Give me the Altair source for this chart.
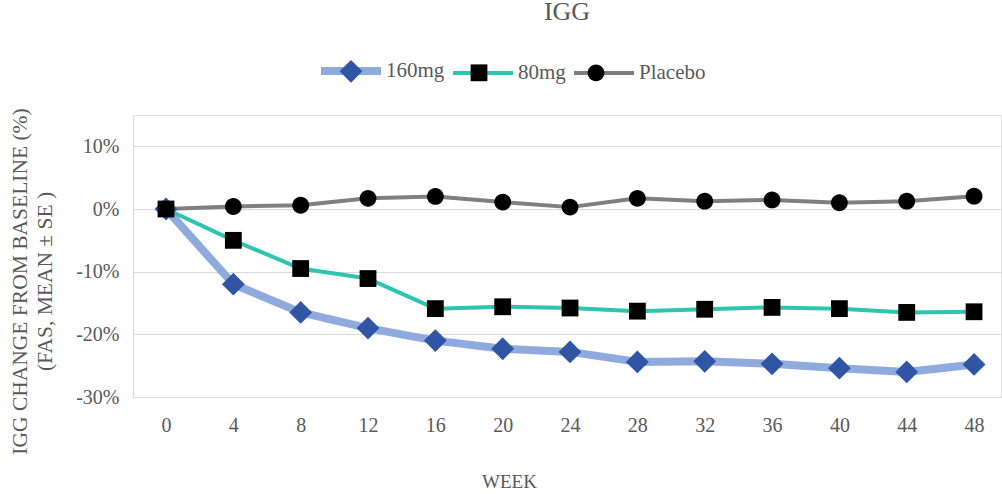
import altair as alt
import pandas as pd

weeks = [0, 4, 8, 12, 16, 20, 24, 28, 32, 36, 40, 44, 48]
pct_160mg = [0, -12.0, -16.5, -19.0, -21.0, -22.3, -22.8, -24.4, -24.3, -24.7, -25.4, -26.0, -24.8]
pct_80mg = [0, -5.0, -9.5, -11.1, -15.9, -15.6, -15.8, -16.3, -16.0, -15.7, -15.9, -16.5, -16.4]
pct_placebo = [0, 0.4, 0.6, 1.7, 2.0, 1.1, 0.3, 1.7, 1.25, 1.45, 1.0, 1.25, 2.05]
series_names = ["160mg", "80mg", "Placebo"]
y_ticks = [-30, -20, -10, 0, 10]

line_colors = ["#8faadc", "#2ec4b0", "#7f7f7f"]
line_widths = [8, 4, 4]
marker_colors = ["#2f55a4", "#000000", "#000000"]
diamond = "M0,-0.38L0.38,0L0,0.38L-0.38,0Z"
square = "M-0.28,-0.28L0.28,-0.28L0.28,0.28L-0.28,0.28Z"
circle = "M0.28,0A0.28,0.28 0 1,1 -0.28,0A0.28,0.28 0 1,1 0.28,0Z"
legend_line = "M-1,0L1,0"

rows = []
for name, vals in [("Placebo", pct_placebo), ("160mg", pct_160mg), ("80mg", pct_80mg)]:
    for w, v in zip(weeks, vals):
        rows.append({"week": w, "pct": v, "series": name, "marker": name})
df = pd.DataFrame(rows)

FONT = "Liberation Serif"
GRAY = "#595959"

x = alt.X(
    "week:Q",
    scale=alt.Scale(domain=[-1.96, 49.6], nice=False, zero=False),
    axis=alt.Axis(
        values=weeks, grid=False, ticks=False, tickSize=0, labelPadding=18,
        labelFont=FONT, labelFontSize=20, labelColor=GRAY,
        domainColor="#d9d9d9", domainWidth=1,
        title="WEEK", titleFont=FONT, titleFontSize=19, titleColor=GRAY,
        titleFontWeight="normal", titleX=376, titleY=90, titleBaseline="alphabetic",
        titleAlign="center",
    ),
)
y = alt.Y(
    "pct:Q",
    scale=alt.Scale(domain=[-30, 15], nice=False, zero=False),
    axis=alt.Axis(
        values=y_ticks, labelExpr="datum.value + '%'", ticks=False, tickSize=0,
        labelPadding=14, labelFont=FONT, labelFontSize=20, labelColor=GRAY,
        gridColor="#d9d9d9", gridWidth=1, domainColor="#d9d9d9", domainWidth=1,
        title=["IGG CHANGE FROM BASELINE (%)", "(FAS, MEAN ± SE )"],
        titleFont=FONT, titleFontSize=21.5, titleColor=GRAY, titleFontWeight="normal",
        titleLineHeight=25, titleX=-102, titleY=166, titleAlign="center",
        titleBaseline="bottom", titleAngle=270,
    ),
)

legend_common = dict(
    orient="none", legendX=184, legendY=-78, direction="horizontal", columns=3,
    symbolSize=3600, labelFont=FONT, labelFontSize=21, labelColor=GRAY,
    labelOffset=1, columnPadding=0, padding=0, title=None,
)

line_legend = alt.Legend(symbolType=legend_line, zindex=1, **legend_common)

lines = alt.Chart(df).mark_line(strokeCap="round", strokeJoin="round").encode(
    x=x,
    y=y,
    stroke=alt.Stroke(
        "series:N",
        scale=alt.Scale(domain=series_names, range=line_colors),
        legend=line_legend,
    ),
    strokeWidth=alt.StrokeWidth(
        "series:N",
        scale=alt.Scale(type="ordinal", domain=series_names, range=line_widths),
        legend=line_legend,
    ),
)

marker_legend = alt.Legend(
    zindex=2, labelOpacity=0, symbolStrokeWidth=8, symbolStrokeColor="transparent",
    symbolOpacity=1, **legend_common,
)

points = alt.Chart(df).mark_point(filled=True, size=3600, opacity=1, strokeWidth=0).encode(
    x=x,
    y=y,
    shape=alt.Shape("marker:N", scale=alt.Scale(range=[diamond, square, circle]), legend=marker_legend),
    fill=alt.Fill("marker:N", scale=alt.Scale(range=marker_colors), legend=marker_legend),
)

chart = alt.layer(lines, points).properties(
    width=868,
    height=282,
    title=alt.TitleParams(
        "IGG", font=FONT, fontSize=26, color=GRAY, fontWeight="normal",
        anchor="middle", frame="group", offset=12,
    ),
    autosize=alt.AutoSizeParams(type="none"),
    padding={"left": 133, "top": 115, "right": 1, "bottom": 97},
).configure_view(stroke=None).configure(background="white")

chart.save("out.html", embed_options={"renderer": "svg", "actions": False})
